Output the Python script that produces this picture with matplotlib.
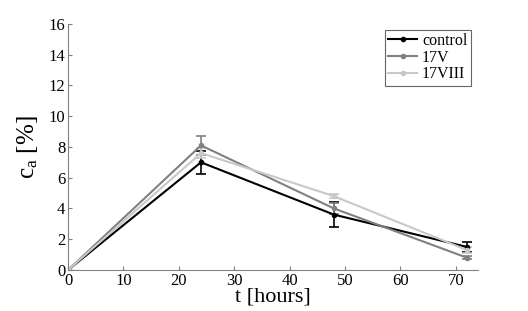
import matplotlib
matplotlib.use("Agg")
from matplotlib import pyplot as plt
from matplotlib.lines import Line2D

# time points (hours)
hours = [0, 24, 48, 72]

# concentration c_a [%] per series, with error
control = [0, 7.0, 3.6, 1.5]
control_err = [0, 0.75, 0.8, 0.35]
v17 = [0, 8.1, 4.0, 0.8]
v17_err = [0, 0.6, 0.35, 0.1]
viii17 = [0, 7.6, 4.8, 1.3]
viii17_err = [0, 0.3, 0.15, 0.2]

labels = ["control", "17V", "17VIII"]
colors = ["#000000", "#808080", "#c8c8c8"]

plt.rcParams["font.family"] = ["Liberation Serif", "DejaVu Serif"]
plt.rcParams["mathtext.fontset"] = "custom"
plt.rcParams["mathtext.rm"] = "Liberation Serif"
plt.rcParams["mathtext.it"] = "Liberation Serif"

fig = plt.figure(figsize=(5.28, 3.11), dpi=100)
ax = fig.add_axes([0.129, 0.132, 0.776, 0.791])

handles = []
for vals, errs, lab, col in zip([control, v17, viii17],
                                [control_err, v17_err, viii17_err],
                                labels, colors):
    ax.errorbar(hours, vals, yerr=errs, color=col, marker="o",
                markersize=3, linewidth=1.5, elinewidth=1.2, capsize=3.5,
                capthick=1.2)
    handles.append(Line2D([], [], color=col, marker="o", markersize=3,
                          linewidth=1.5, label=lab))

ax.set_xlim(0, 74)
ax.set_ylim(0, 16)
ax.set_xticks(range(0, 71, 10))
ax.set_yticks(range(0, 17, 2))
ax.tick_params(direction="in", length=3, labelsize=12, color="#808080", pad=2)
for side in ["top", "right"]:
    ax.spines[side].set_visible(False)
for side in ["left", "bottom"]:
    ax.spines[side].set_color("#808080")

ax.set_xlabel("t [hours]", fontsize=16, labelpad=-1)
ax.set_ylabel(r"c$_{\rm a}$ [%]", fontsize=18, labelpad=6)

leg = ax.legend(handles=handles, loc="upper right", fontsize=11.5, frameon=True,
                fancybox=False, handlelength=1.8, handletextpad=0.3,
                borderpad=0.2, labelspacing=0.05, borderaxespad=0.2,
                bbox_to_anchor=(0.99, 0.99))
leg.get_frame().set_edgecolor("#404040")
leg.get_frame().set_linewidth(0.8)

fig.savefig("out.png", dpi=100)
